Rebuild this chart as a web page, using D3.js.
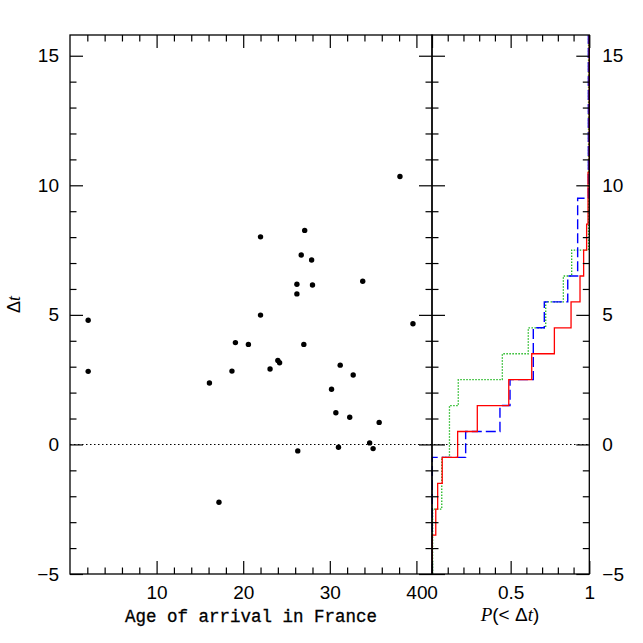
<!DOCTYPE html>
<html>
<head>
<meta charset="utf-8">
<script src="https://cdn.jsdelivr.net/npm/d3@7"></script>
<style>
  body { margin: 0; background: #fff; }
  svg { display: block; }
</style>
</head>
<body>
<div id="chart"></div>
<script>
// scatter: age of arrival vs delta t
var ageArrival = [2.1, 2.1, 16.1, 17.2, 18.7, 19.1, 20.6, 22.0, 22.0, 23.1, 24.0, 24.2,
    26.2, 26.2, 26.3, 26.7, 27.0, 27.1, 27.9, 28.0, 30.2, 30.7, 31.0, 31.2,
    32.3, 32.7, 33.8, 34.6, 35.0, 35.7, 38.1, 39.6];
var deltaT = [4.79, 2.82, 2.37, -2.23, 2.83, 3.93, 3.86, 8.01, 4.99, 2.91, 3.24, 3.15,
    6.18, 5.81, -0.25, 7.31, 3.86, 8.26, 7.12, 6.15, 2.13, 1.22, -0.11, 3.06,
    1.05, 2.68, 6.30, 0.06, -0.16, 0.85, 10.34, 4.66];

// cumulative curves: level edges and P(< dt) between them
var redLevels = [-5, -3.5, -2.5, -1.5, -0.5, 0.5, 1.5, 2.5, 3.5, 4.5, 5.5, 6.5, 7.5, 8.5, 10.5, 15.8];
var redP = [0.002, 0.024, 0.036, 0.065, 0.163, 0.288, 0.488, 0.634, 0.778, 0.884, 0.941, 0.964, 0.983, 0.992, 1.0];
var blueLevels = [-5, -0.5, 0.5, 1.5, 2.5, 4.5, 5.5, 6.5, 9.5, 15.8];
var blueP = [0.002, 0.214, 0.432, 0.496, 0.644, 0.714, 0.863, 0.926, 0.994];
var greenLevels = [-5, -2.5, -0.5, 1.5, 2.5, 3.5, 4.5, 5.5, 6.5, 7.5, 15.8];
var greenP = [0.004, 0.062, 0.111, 0.167, 0.447, 0.612, 0.723, 0.835, 0.888, 0.995];

// ticks
var yMajor = [-5, 0, 5, 10, 15];
var yMinor = [-4, -3, -2, -1, 1, 2, 3, 4, 6, 7, 8, 9, 11, 12, 13, 14];
var ageMajor = [10, 20, 30, 40];
var ageMinor = [2, 4, 6, 8, 12, 14, 16, 18, 22, 24, 26, 28, 32, 34, 36, 38];
var pMajor = [0, 0.5, 1];
var pMinor = [0.1, 0.2, 0.3, 0.4, 0.6, 0.7, 0.8, 0.9];

var W = 643, H = 643;
var yTop = 35, yBot = 574, xLeft = 70, xMid = 432, xRight = 589.3;
var numFont = "'Liberation Sans', Arial, sans-serif";

var svg = d3.select("#chart").append("svg")
    .attr("width", W)
    .attr("height", H);

var x = d3.scaleLinear().domain([0, 41.8]).range([xLeft, xMid]);
var p = d3.scaleLinear().domain([0, 1]).range([xMid, xRight]);
var y = d3.scaleLinear().domain([-5, 15.8]).range([yBot, yTop]);

// zero line across both panels
svg.append("line")
    .attr("x1", xLeft).attr("x2", xRight)
    .attr("y1", y(0)).attr("y2", y(0))
    .attr("stroke", "#000")
    .attr("stroke-width", 1.1)
    .attr("stroke-dasharray", "1.5,2.5");

// points
svg.selectAll(".dot")
    .data(ageArrival)
    .enter()
    .append("circle")
    .attr("class", "dot")
    .attr("cx", function(d) { return x(d); })
    .attr("cy", function(d, i) { return y(deltaT[i]); })
    .attr("r", 2.7)
    .attr("fill", "#000");

// step curves (vertical first, then across to next P)
function stepPoints(levels, probs) {
    var pts = [];
    probs.forEach(function(v, i) {
        pts.push([v, levels[i]]);
        pts.push([v, levels[i + 1]]);
    });
    return pts;
}
var stepLine = d3.line()
    .x(function(d) { return p(d[0]); })
    .y(function(d) { return y(d[1]); });

var curves = [
    {levels: greenLevels, probs: greenP, color: "#22b822", dash: "1.5,1.5", w: 1.3},
    {levels: blueLevels, probs: blueP, color: "#0000ff", dash: "10,4", w: 1.4},
    {levels: redLevels, probs: redP, color: "#ff0000", dash: null, w: 1.3}
];
curves.forEach(function(c) {
    svg.append("path")
        .attr("d", stepLine(stepPoints(c.levels, c.probs)))
        .attr("fill", "none")
        .attr("stroke", c.color)
        .attr("stroke-width", c.w)
        .attr("stroke-dasharray", c.dash);
});

// frames
svg.append("rect")
    .attr("x", xLeft).attr("y", yTop)
    .attr("width", xMid - xLeft).attr("height", yBot - yTop)
    .attr("fill", "none").attr("stroke", "#000").attr("stroke-width", 1.3);
svg.append("rect")
    .attr("x", xMid).attr("y", yTop)
    .attr("width", xRight - xMid).attr("height", yBot - yTop)
    .attr("fill", "none").attr("stroke", "#000").attr("stroke-width", 1.3);

// ticks helper
function addAxis(gen, tx, ty, labels) {
    var g = svg.append("g")
        .attr("transform", "translate(" + tx + "," + ty + ")")
        .call(gen);
    g.select(".domain").remove();
    g.selectAll("line").attr("stroke", "#000").attr("stroke-width", 1.2);
    g.selectAll("text")
        .attr("font-family", numFont)
        .attr("font-size", 19)
        .attr("fill", "#000");
    if (!labels) g.selectAll("text").remove();
    return g;
}
var pFmt = function(d) { return d === 0.5 ? "0.5" : d3.format("d")(d); };

// y ticks
addAxis(d3.axisLeft(y).tickValues(yMajor).tickSize(-13).tickPadding(11).tickFormat(d3.format("d")), xLeft, 0, true);
addAxis(d3.axisLeft(y).tickValues(yMinor).tickSize(-6.5).tickFormat(""), xLeft, 0, false);
addAxis(d3.axisRight(y).tickValues(yMajor).tickSize(-13).tickFormat(""), xMid, 0, false);
addAxis(d3.axisRight(y).tickValues(yMinor).tickSize(-6.5).tickFormat(""), xMid, 0, false);
addAxis(d3.axisLeft(y).tickValues(yMajor).tickSize(-13).tickFormat(""), xMid, 0, false);
addAxis(d3.axisLeft(y).tickValues(yMinor).tickSize(-6.5).tickFormat(""), xMid, 0, false);
addAxis(d3.axisRight(y).tickValues(yMajor).tickSize(-13).tickPadding(13).tickFormat(d3.format("d")), xRight, 0, true);
addAxis(d3.axisRight(y).tickValues(yMinor).tickSize(-6.5).tickFormat(""), xRight, 0, false);

// x ticks, left panel
addAxis(d3.axisBottom(x).tickValues(ageMajor).tickSize(-13).tickPadding(11.5).tickFormat(d3.format("d")), 0, yBot, true);
addAxis(d3.axisBottom(x).tickValues(ageMinor).tickSize(-6.5).tickFormat(""), 0, yBot, false);
addAxis(d3.axisTop(x).tickValues(ageMajor).tickSize(-13).tickFormat(""), 0, yTop, false);
addAxis(d3.axisTop(x).tickValues(ageMinor).tickSize(-6.5).tickFormat(""), 0, yTop, false);

// x ticks, right panel
addAxis(d3.axisBottom(p).tickValues(pMajor).tickSize(-13).tickPadding(11.5).tickFormat(pFmt), 0, yBot, true);
addAxis(d3.axisBottom(p).tickValues(pMinor).tickSize(-6.5).tickFormat(""), 0, yBot, false);
addAxis(d3.axisTop(p).tickValues(pMajor).tickSize(-13).tickFormat(""), 0, yTop, false);
addAxis(d3.axisTop(p).tickValues(pMinor).tickSize(-6.5).tickFormat(""), 0, yTop, false);

// axis titles
svg.append("text")
    .attr("x", (xLeft + xMid) / 2)
    .attr("y", 622)
    .attr("text-anchor", "middle")
    .attr("font-family", "'Liberation Mono', 'Courier New', monospace")
    .attr("font-size", 17.5)
    .attr("stroke", "#000")
    .attr("stroke-width", 0.3)
    .text("Age of arrival in France");

var pt = svg.append("text")
    .attr("x", 510)
    .attr("y", 621)
    .attr("text-anchor", "middle")
    .attr("font-family", numFont)
    .attr("font-size", 19);
pt.append("tspan").attr("font-style", "italic").attr("font-family", "'Liberation Serif', serif").text("P");
pt.append("tspan").text("(<  \u0394");
pt.append("tspan").attr("font-style", "italic").attr("font-family", "'Liberation Serif', serif").text("t");
pt.append("tspan").text(")");

var yt = svg.append("text")
    .attr("transform", "translate(20," + ((yTop + yBot) / 2) + ") rotate(-90)")
    .attr("text-anchor", "middle")
    .attr("font-family", numFont)
    .attr("font-size", 18);
yt.append("tspan").text("\u0394");
yt.append("tspan").attr("font-style", "italic").attr("font-family", "'Liberation Serif', serif").text("t");
</script>
</body>
</html>
